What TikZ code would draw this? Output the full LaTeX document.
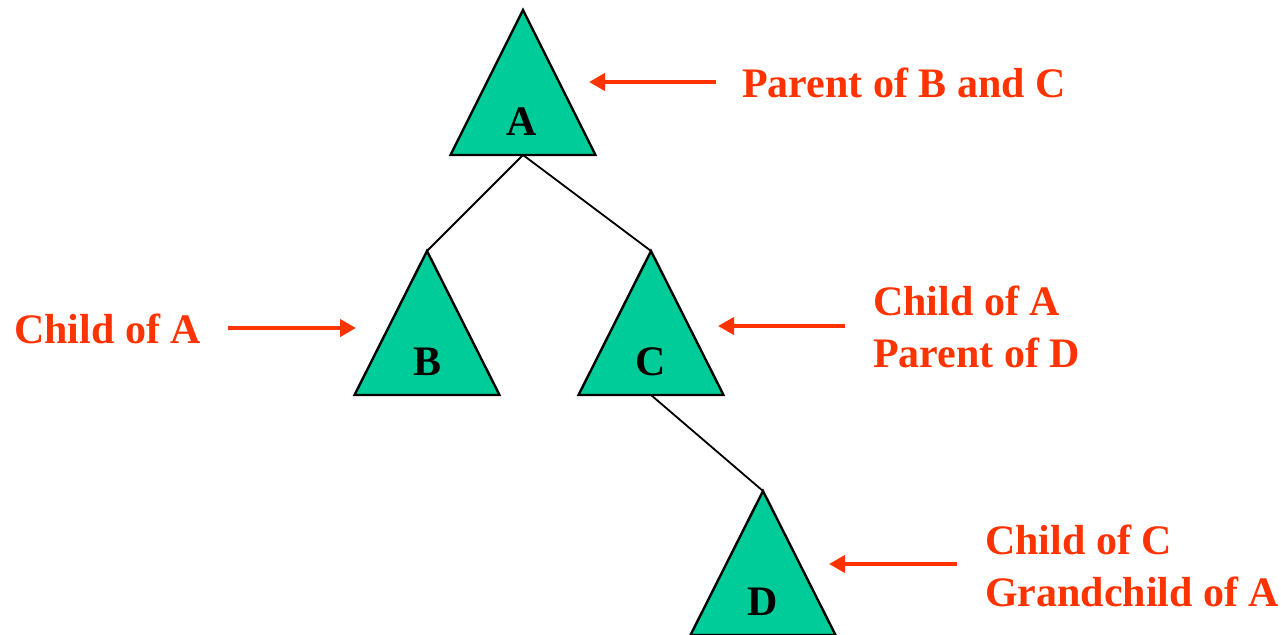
\documentclass[tikz,border=0pt]{standalone}
\usepackage{fontspec}
\setmainfont{Liberation Serif}
\usetikzlibrary{arrows.meta}
\definecolor{treefill}{HTML}{00CC99}
\definecolor{notecol}{HTML}{FF3300}
\tikzset{
  subtree/.style={draw=black, line width=2.4pt, fill=treefill, line join=miter},
  edge/.style={draw=black, line width=1.8pt},
  pointer/.style={draw=notecol, line width=4.7pt, -{Triangle[length=16pt,width=17pt]}},
  note/.style={text=notecol, font=\bfseries\fontsize{42}{52}\selectfont, inner sep=0pt, anchor=base west, align=left},
  letter/.style={font=\bfseries\fontsize{42}{52}\selectfont, inner sep=0pt, anchor=base}
}
\begin{document}
\begin{tikzpicture}[x=1pt,y=-1pt]
\useasboundingbox (0,0) rectangle (1281,634);
% apex and base centre of each subtree
\coordinate (Atop) at (523,10);  \coordinate (Abot) at (523,155);
\coordinate (Btop) at (427,251); \coordinate (Bbot) at (427,395);
\coordinate (Ctop) at (651,251); \coordinate (Cbot) at (651,395);
\coordinate (Dtop) at (763,491); \coordinate (Dbot) at (763,635);
% tree edges
\draw[edge] (Abot) -- (Btop);
\draw[edge] (Abot) -- (Ctop);
\draw[edge] (Cbot) -- (Dtop);
% subtrees
\foreach \t in {A,B,C,D}{
  \path[subtree] (\t top) -- ([xshift=72.5pt]\t bot) -- ([xshift=-72.5pt]\t bot) -- cycle;
}
\node[letter] (la) at (522,135) {A};
\node[letter] (lb) at (427,375) {B};
\node[letter] (lc) at (651,375) {C};
\node[letter] (ld) at (763,615) {D};
% annotations (base anchor of a two-line note sits on its last line)
\node[note] (nA) at (742,97) {Parent of B and C};
\node[note] (nB) at (14,343) {Child of A};
\node[note] (nC) at (873,367) {Child of A\\Parent of D};
\node[note] (nD) at (985,606) {Child of C\\Grandchild of A};
\coordinate (pA1) at (716,82);  \coordinate (pA2) at (589,82);
\coordinate (pB1) at (228,328); \coordinate (pB2) at (356,328);
\coordinate (pC1) at (845,326); \coordinate (pC2) at (718,326);
\coordinate (pD1) at (957,564); \coordinate (pD2) at (829,564);
\draw[pointer] (pA1) -- (pA2);
\draw[pointer] (pB1) -- (pB2);
\draw[pointer] (pC1) -- (pC2);
\draw[pointer] (pD1) -- (pD2);
\end{tikzpicture}
\end{document}
